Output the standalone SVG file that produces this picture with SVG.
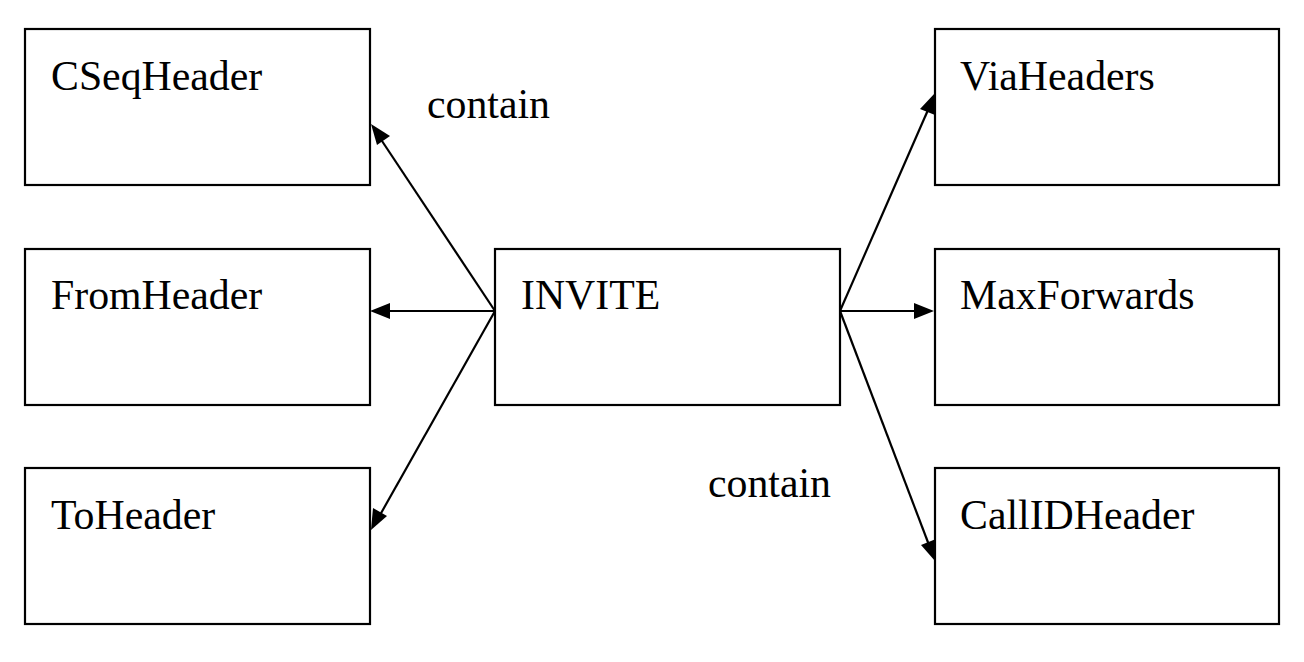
<svg xmlns="http://www.w3.org/2000/svg" width="1304" height="662" viewBox="0 0 1304 662">
<style>
.box{fill:#fff;stroke:#000;stroke-width:2.2}
.t{font-family:"Liberation Serif","Times New Roman",serif;font-size:41.8px;fill:#000}
.c{stroke:#000;stroke-width:2.2;fill:none}
.h{fill:#000}
</style>
<rect width="1304" height="662" fill="#fff"/>
<g id="connectors">
<line class="c" x1="495" y1="311" x2="380" y2="138"/>
<path class="h" d="M371,124 L390,136 L377,145 z"/>
<line class="c" x1="495" y1="311" x2="389" y2="311"/>
<path class="h" d="M370,311 L390,303 L390,319 z"/>
<line class="c" x1="495" y1="311" x2="380" y2="515"/>
<path class="h" d="M371,530 L373,508 L387,516 z"/>
<line class="c" x1="840" y1="311" x2="928" y2="110"/>
<path class="h" d="M935,93 L935,115 L920,109 z"/>
<line class="c" x1="840" y1="311" x2="916" y2="311"/>
<path class="h" d="M934,311 L914,303 L914,319 z"/>
<line class="c" x1="840" y1="311" x2="929" y2="545"/>
<path class="h" d="M935,561 L921,545 L936,539 z"/>
<text class="t" x="427" y="118">contain</text>
<text class="t" x="708" y="497">contain</text>
</g>
<g id="CSeqHeader"><rect class="box" x="25" y="29" width="345" height="156"/><text class="t" x="51" y="90">CSeqHeader</text></g>
<g id="FromHeader"><rect class="box" x="25" y="249" width="345" height="156"/><text class="t" x="51" y="309">FromHeader</text></g>
<g id="ToHeader"><rect class="box" x="25" y="468" width="345" height="156"/><text class="t" x="51" y="529">ToHeader</text></g>
<g id="INVITE"><rect class="box" x="495" y="249" width="345" height="156"/><text class="t" x="521" y="309">INVITE</text></g>
<g id="ViaHeaders"><rect class="box" x="935" y="29" width="344" height="156"/><text class="t" x="960" y="90">ViaHeaders</text></g>
<g id="MaxForwards"><rect class="box" x="935" y="249" width="344" height="156"/><text class="t" x="960" y="309">MaxForwards</text></g>
<g id="CallIDHeader"><rect class="box" x="935" y="468" width="344" height="156"/><text class="t" x="960" y="529">CallIDHeader</text></g>
</svg>
